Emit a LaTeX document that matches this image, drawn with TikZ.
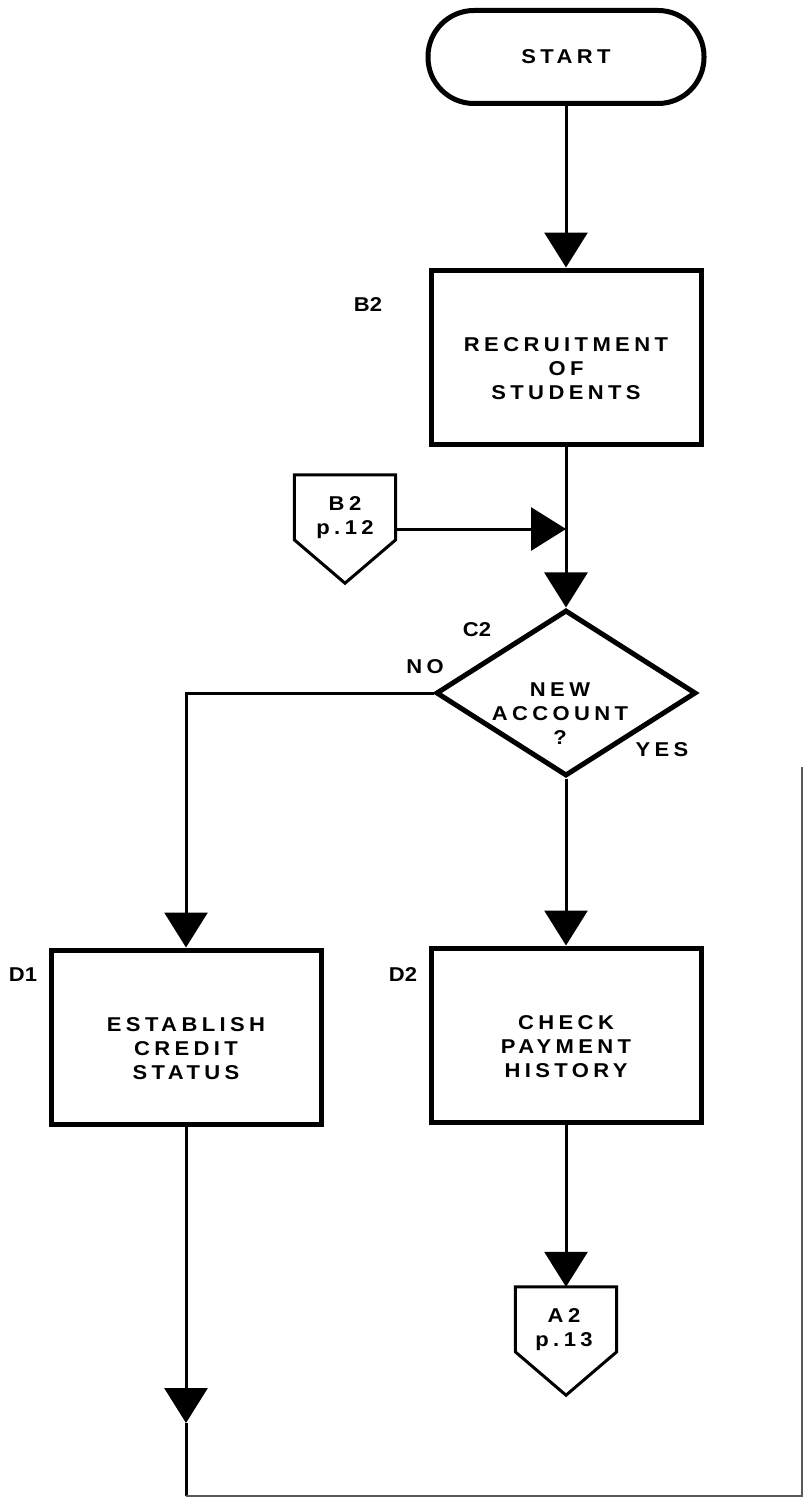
\documentclass[tikz,border=0pt]{standalone}
\usepackage{fontspec}
\setmainfont{Liberation Sans}
\newfontfamily\chartfont[LetterSpace=22, FakeStretch=1.1]{Liberation Sans}
\newfontfamily\tagfont[FakeStretch=1.1]{Liberation Sans}
\usetikzlibrary{arrows.meta,shapes.geometric}
\begin{document}
\begin{tikzpicture}[x=1pt,y=-1pt,
		every node/.style={font={\chartfont\bfseries\fontsize{20}{24}\selectfont}, align=center},
		terminal/.style={draw, line width=5pt, rectangle, rounded corners=46pt, minimum width=276pt, minimum height=93pt},
		process/.style={draw, line width=5pt, minimum width=270pt, minimum height=174pt, text height=84pt, text depth=0pt},
		decision/.style={draw, line width=5pt, diamond, minimum width=260pt, minimum height=166pt, inner sep=0pt},
		offpage/.style={minimum width=101pt, minimum height=108pt, inner sep=0pt},
		tag/.style={font={\tagfont\bfseries\fontsize{20}{24}\selectfont}},
		conn/.style={line width=3pt},
		flow/.style={conn, -{Triangle[width=43pt,length=35pt]}},
		pageline/.style={line width=2pt, draw=black!65}]
	\useasboundingbox (0,0) rectangle (805,1498);
	\node [terminal] (start) at (566,57) {START};
	\node [process] (recruit) at (566,357) {RECRUITMENT\\OF\\STUDENTS};
	\node [tag] (tagB2) at (368,305) {B2};
	\node [offpage] (b2ref) at (345,529) {};
	\draw [line width=3pt] (b2ref.north west) -- (b2ref.north east) -- ([yshift=-65pt]b2ref.north east) -- (b2ref.south) -- ([yshift=-65pt]b2ref.north west) -- cycle;
	\node (b2txt) at (345,518) {B2\\p.12};
	\node [decision] (decide) at (566,693) {};
	\node (accttxt) at (560,714) {NEW\\ACCOUNT\\?};
	\node [tag] (tagC2) at (477,630) {C2};
	\node (tagNO) at (425,667) {NO};
	\node (tagYES) at (662,750) {YES};
	\node [process] (establish) at (186,1037) {ESTABLISH\\CREDIT\\STATUS};
	\node [tag] (tagD1) at (23,975) {D1};
	\node [process] (check) at (566,1035) {CHECK\\PAYMENT\\HISTORY};
	\node [tag] (tagD2) at (403,975) {D2};
	\node [offpage] (a2ref) at (566,1341) {};
	\draw [line width=3pt] (a2ref.north west) -- (a2ref.north east) -- ([yshift=-65pt]a2ref.north east) -- (a2ref.south) -- ([yshift=-65pt]a2ref.north west) -- cycle;
	\node (a2txt) at (564,1330) {A2\\p.13};
	\coordinate (dropmid) at (186,1423);
	\coordinate (dropend) at (186,1496);
	\coordinate (pagecorner) at (802,1496);
	\coordinate (pagetop) at (802,767);
	\draw [flow] (start) -- (recruit);
	\draw [flow] (recruit) -- (decide);
	\draw [flow] (b2ref.east) -- (b2ref.east -| recruit.south);
	\draw [flow] (decide.west) -| (establish.north);
	\draw [flow] (decide) -- (check);
	\draw [flow] (check) -- (a2ref.north);
	\draw [flow] (establish) -- (dropmid);
	\draw [conn] (dropmid) -- (dropend);
	\draw [pageline] (dropend) -- (pagecorner) -- (pagetop);
\end{tikzpicture}
\end{document}
